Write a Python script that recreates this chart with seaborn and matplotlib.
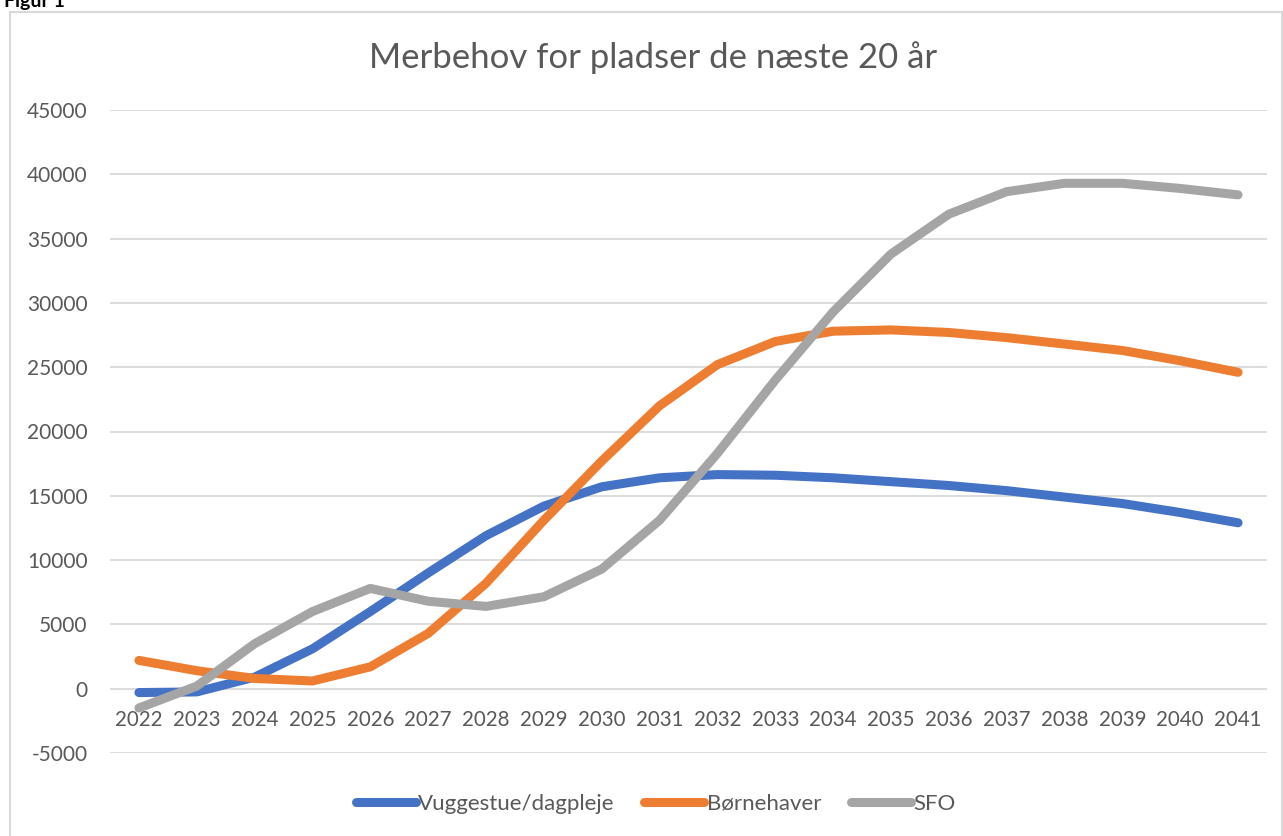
import pandas as pd
import matplotlib.pyplot as plt
import seaborn as sns
from matplotlib.lines import Line2D
from matplotlib.patches import Rectangle

years = list(range(2022, 2042))
vuggestue = [-300, -250, 900, 3100, 6000, 9000, 11900, 14200, 15700, 16400,
             16650, 16600, 16400, 16100, 15800, 15400, 14900, 14400, 13700, 12900]
boernehaver = [2200, 1400, 800, 600, 1700, 4300, 8200, 13100, 17700, 22000,
               25200, 27000, 27800, 27900, 27700, 27300, 26800, 26300, 25500, 24600]
sfo = [-1500, 200, 3500, 6000, 7800, 6800, 6400, 7150, 9300, 13100,
       18300, 24000, 29300, 33800, 36900, 38650, 39300, 39300, 38900, 38400]
series_names = ["Vuggestue/dagpleje", "Børnehaver", "SFO"]
colors = ["#4472C4", "#ED7D31", "#A5A5A5"]
y_ticks = list(range(-5000, 45001, 5000))

df = pd.DataFrame({
    "year": years * 3,
    "value": vuggestue + boernehaver + sfo,
    "serie": sum([[n] * len(years) for n in series_names], []),
})

sns.set_style("white")
plt.rcParams['font.family'] = ['Lato', 'DejaVu Sans']
plt.rcParams['axes.unicode_minus'] = False
text_color = "#595959"
grid_color = "#D9D9D9"

fig = plt.figure(figsize=(12.83, 8.36), dpi=100)

# ydre ramme og delvist synlig figurtekst
fig.patches.append(Rectangle((10 / 1283, -0.05), 1272 / 1283, 1.05 - 12 / 836,
                             transform=fig.transFigure, fill=False,
                             edgecolor=grid_color, linewidth=1.5))
fig.text(0.003, 0.992, "Figur 1", fontsize=14, fontweight="bold", color="black",
         ha="left", va="baseline")

ax = fig.add_axes([110 / 1283, 83 / 836, 1157 / 1283, 643 / 836])
sns.lineplot(data=df, x="year", y="value", hue="serie", palette=colors,
             hue_order=series_names, linewidth=6.5, ax=ax, legend=False,
             solid_capstyle="round")

ax.set_xlim(2021.5, 2041.5)
ax.set_ylim(-5000, 45000)
ax.set_yticks(y_ticks, labels=[str(v) for v in y_ticks])
ax.set_xticks(years, labels=[str(y) for y in years])
ax.grid(axis="y", color=grid_color, linewidth=1.3)
ax.set_axisbelow(True)
for s in ax.spines.values():
    s.set_visible(False)
ax.spines['bottom'].set_position(('data', 0))
ax.tick_params(axis="x", length=0, pad=15, labelsize=14.8, labelcolor=text_color)
ax.tick_params(axis="y", length=0, pad=16, labelsize=15, labelcolor=text_color)
ax.set_xlabel("")
ax.set_ylabel("")

fig.text(0.509, 1 - 58 / 836, "Merbehov for pladser de næste 20 år", fontsize=25,
         color=text_color, ha="center", va="center")

handles = [Line2D([0], [0], color=c, linewidth=6.5, solid_capstyle="round") for c in colors]
fig.legend(handles, series_names, loc="center", bbox_to_anchor=(0.511, 1 - 804 / 836),
           ncol=3, frameon=False, fontsize=16, labelcolor=text_color,
           handlelength=2.7, handletextpad=0.1, columnspacing=1.35)

plt.savefig("out.png", dpi=100)
